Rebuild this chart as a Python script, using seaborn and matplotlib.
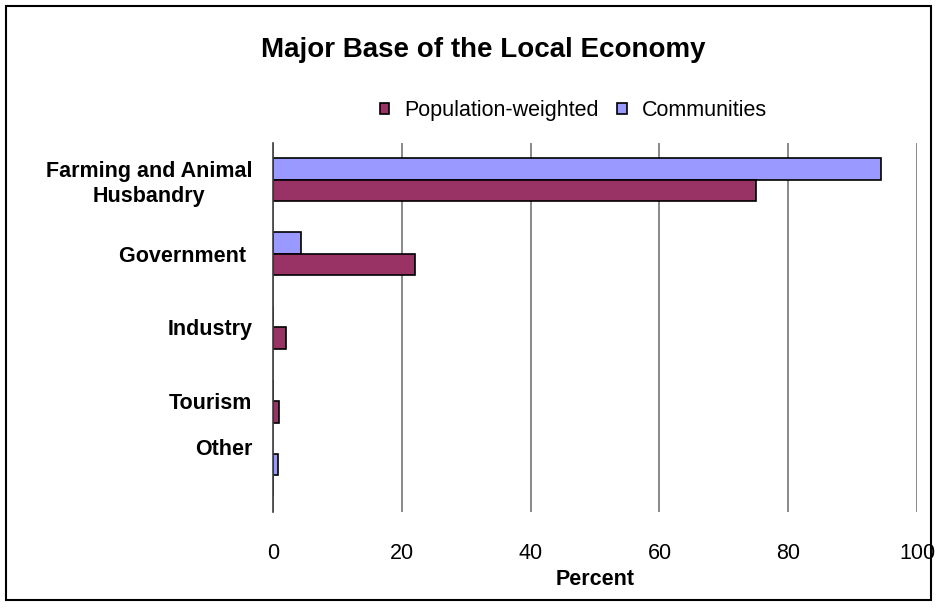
import matplotlib
matplotlib.use("Agg")
import matplotlib.pyplot as plt
import matplotlib.transforms as mtransforms
import seaborn as sns
import pandas as pd
from matplotlib.patches import Rectangle

# data
categories = ["Farming and Animal\nHusbandry", "Government ", "Industry", "Tourism", "Other"]
communities = [94.4, 4.4, 0, 0, 0.8]
population_weighted = [75.0, 22.0, 2.0, 1.0, 0]
xticks = [0, 20, 40, 60, 80, 100]

df = pd.DataFrame({
    "category": categories * 2,
    "value": communities + population_weighted,
    "series": ["Communities"] * 5 + ["Population-weighted"] * 5,
})

sns.set_style("white")
plt.rcParams["font.family"] = ["Liberation Sans", "DejaVu Sans"]
plt.rcParams["text.color"] = "black"
plt.rcParams["xtick.color"] = "black"
plt.rcParams["ytick.color"] = "black"
plt.rcParams["axes.labelcolor"] = "black"

fig = plt.figure(figsize=(9.37, 6.09), dpi=100, facecolor="white")
ax = fig.add_axes([0.2914, 0.1593, 0.6873, 0.6059])

sns.barplot(data=df, x="value", y="category", hue="series", orient="h",
            hue_order=["Communities", "Population-weighted"],
            palette={"Communities": "#9999FF", "Population-weighted": "#993366"},
            saturation=1, width=0.58, edgecolor="black", linewidth=1.2, ax=ax)

ax.set_xlim(0, 100)
ax.set_xticks(xticks)
ax.xaxis.grid(True, color="#808080", linewidth=1.3)
ax.set_axisbelow(True)
for s in ["top", "right", "bottom"]:
    ax.spines[s].set_visible(False)
ax.spines["left"].set_color("#404040")
ax.spines["left"].set_linewidth(1.2)

ax.tick_params(axis="x", length=0, pad=22, labelsize=15.5)
ax.tick_params(axis="y", length=0, pad=15, labelsize=15.5)
ylabels = ax.get_yticklabels()
for lab in ylabels:
    lab.set_fontweight("bold")
    lab.set_horizontalalignment("right")
    lab.set_multialignment("center")
# the last category label sits higher in the original
ylabels[-1].set_transform(ylabels[-1].get_transform() +
                          mtransforms.ScaledTranslation(0, 0.28, fig.dpi_scale_trans))

ax.set_xlabel("Percent", fontsize=15.5, fontweight="bold", labelpad=4)
ax.set_ylabel("")

handles, labels = ax.get_legend_handles_labels()
ax.legend(handles[::-1], labels[::-1], loc="center", bbox_to_anchor=(0.612, 0.818),
          bbox_transform=fig.transFigure, ncol=2, frameon=False, fontsize=15.5,
          handlelength=0.45, handleheight=0.45, columnspacing=0.85, handletextpad=0.7)

fig.text(0.516, 0.918, "Major Base of the Local Economy", ha="center", va="center",
         fontsize=20, fontweight="bold")

fig.patches.append(Rectangle((0.0064, 0.0148), 0.9872, 0.975, transform=fig.transFigure,
                             fill=False, edgecolor="black", linewidth=1.5))

fig.savefig("out.png", dpi=100)
